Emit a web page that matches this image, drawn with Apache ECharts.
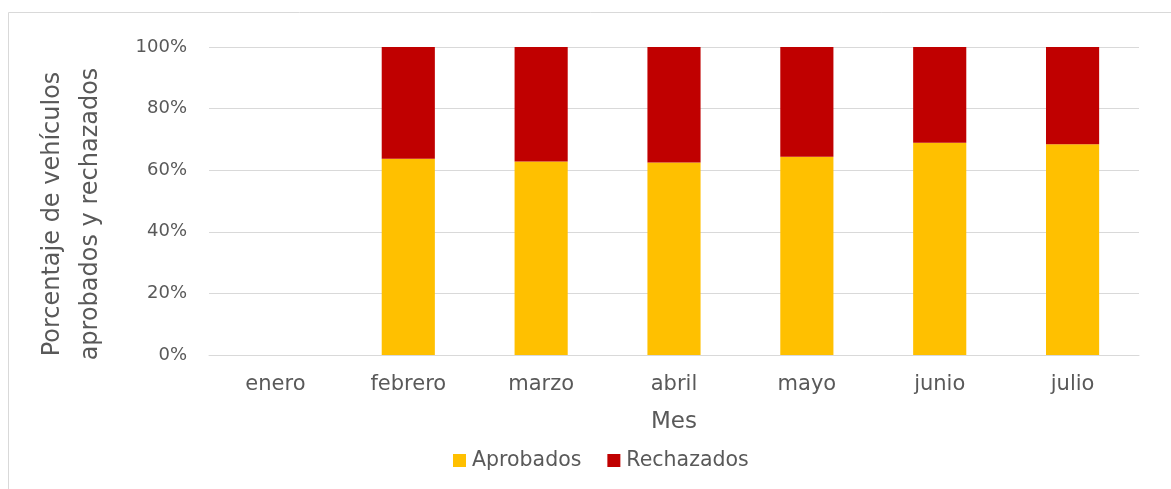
<!DOCTYPE html>
<html>
<head>
<meta charset="utf-8">
<script src="https://cdn.jsdelivr.net/npm/echarts@6/dist/echarts.min.js"></script>
<style>
html,body{margin:0;padding:0;background:#fff;}
#c{width:1171px;height:489px;}
</style>
</head>
<body>
<div id="c"></div>
<script>
const categories = ['enero','febrero','marzo','abril','mayo','junio','julio'];
const aprobados = [0, 63.7, 62.8, 62.5, 64.4, 68.9, 68.4];
const rechazados = [0, 36.3, 37.2, 37.5, 35.6, 31.1, 31.6];
const yTicks = { min: 0, max: 100, interval: 20 };

const FONT = '"DejaVu Sans", sans-serif';
const chart = echarts.init(document.getElementById('c'));
chart.setOption({
  animation: false,
  textStyle: { fontFamily: FONT },
  graphic: [{
    type: 'rect', z: -1,
    shape: { x: 8.5, y: 12.5, width: 1170, height: 490 },
    style: { fill: 'none', stroke: '#d9d9d9', lineWidth: 1 }
  }],
  grid: { left: 209, right: 32, top: 47, bottom: 134 },
  legend: {
    bottom: 13, left: 448,
    itemWidth: 13, itemHeight: 13, itemGap: 26,
    icon: 'rect',
    textStyle: { fontSize: 20.5, color: '#595959', fontFamily: FONT, padding: [0, 0, 0, 1] },
    data: ['Aprobados', 'Rechazados']
  },
  xAxis: {
    type: 'category', data: categories,
    name: 'Mes', nameLocation: 'middle', nameGap: 56,
    nameTextStyle: { fontSize: 23, color: '#595959', fontFamily: FONT },
    axisLine: { lineStyle: { color: '#d9d9d9', width: 1 } },
    axisTick: { show: false },
    axisLabel: { fontSize: 21, color: '#595959', margin: 19, fontFamily: FONT }
  },
  yAxis: {
    type: 'value', min: yTicks.min, max: yTicks.max, interval: yTicks.interval,
    name: 'Porcentaje de vehículos\naprobados y rechazados',
    nameLocation: 'middle', nameRotate: 90, nameGap: 99,
    nameTextStyle: { fontSize: 24, color: '#595959', lineHeight: 38, fontFamily: FONT, padding: [0, 26, 0, 0] },
    axisLine: { show: false }, axisTick: { show: false },
    splitLine: { lineStyle: { color: '#d9d9d9', width: 1 } },
    axisLabel: { formatter: '{value}%', fontSize: 18, color: '#595959', margin: 22, fontFamily: FONT }
  },
  series: [
    { name: 'Aprobados', type: 'bar', stack: 't', data: aprobados, barWidth: '40%', itemStyle: { color: '#ffc000' } },
    { name: 'Rechazados', type: 'bar', stack: 't', data: rechazados, barWidth: '40%', itemStyle: { color: '#c00000' } }
  ]
});
</script>
</body>
</html>
